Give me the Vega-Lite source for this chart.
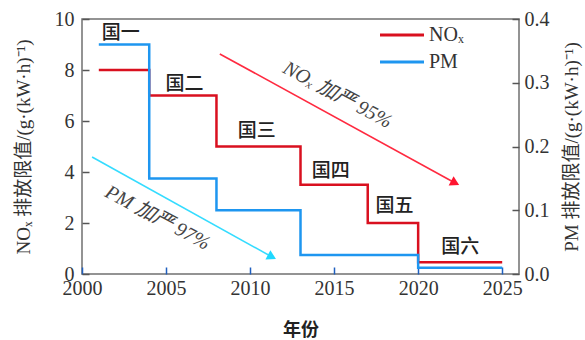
{
  "$schema": "https://vega.github.io/schema/vega-lite/v6.json",
  "width": 437,
  "height": 255,
  "autosize": "none",
  "padding": {"left": 82, "top": 19, "right": 66, "bottom": 66},
  "background": "white",
  "config": {
    "view": {"stroke": "#707070", "strokeWidth": 1.5},
    "font": "Liberation Serif, Noto Sans CJK SC",
    "axis": {
      "labelFont": "Liberation Serif",
      "labelFontSize": 20,
      "labelColor": "#333333",
      "labelFlush": false,
      "labelOverlap": false,
      "tickColor": "#555555",
      "tickSize": -7,
      "tickWidth": 1.5,
      "domain": false,
      "grid": false,
      "titleFont": "Liberation Serif, Noto Sans CJK SC",
      "titleFontSize": 19,
      "titleFontWeight": "normal",
      "titleColor": "#333333"
    },
    "legend": {
      "labelFont": "Liberation Serif",
      "labelFontSize": 20,
      "labelColor": "#333333"
    }
  },
  "datasets": {
    "nox": [
      {"pollutant": "NOₓ", "year": 2001, "limit": 8},
      {"pollutant": "NOₓ", "year": 2004, "limit": 7},
      {"pollutant": "NOₓ", "year": 2008, "limit": 5},
      {"pollutant": "NOₓ", "year": 2013, "limit": 3.5},
      {"pollutant": "NOₓ", "year": 2017, "limit": 2},
      {"pollutant": "NOₓ", "year": 2020, "limit": 0.46},
      {"pollutant": "NOₓ", "year": 2025, "limit": 0.46}
    ],
    "pm": [
      {"pollutant": "PM", "year": 2001, "limit": 0.36},
      {"pollutant": "PM", "year": 2004, "limit": 0.15},
      {"pollutant": "PM", "year": 2008, "limit": 0.1},
      {"pollutant": "PM", "year": 2013, "limit": 0.03},
      {"pollutant": "PM", "year": 2020, "limit": 0.01},
      {"pollutant": "PM", "year": 2025, "limit": 0.01}
    ],
    "stages": [
      {"stage": "国一", "year": 2002.3, "value": 9.45},
      {"stage": "国二", "year": 2006.1, "value": 7.47},
      {"stage": "国三", "year": 2010.4, "value": 5.6},
      {"stage": "国四", "year": 2014.8, "value": 4.04},
      {"stage": "国五", "year": 2018.6, "value": 2.67},
      {"stage": "国六", "year": 2022.5, "value": 1.04}
    ],
    "trends": [
      {"pollutant": "NOₓ", "from_year": 2008.2, "from_value": 8.63, "to_year": 2022.2, "to_value": 3.57, "note": "NOₓ 加严 95%", "note_year": 2015.2, "note_value": 7.02},
      {"pollutant": "PM", "from_year": 2000.6, "from_value": 4.59, "to_year": 2011.3, "to_value": 0.67, "note": "PM 加严 97%", "note_year": 2004.5, "note_value": 2.2}
    ]
  },
  "layer": [
    {
      "layer": [
        {
          "data": {"name": "nox"},
          "mark": {"type": "line", "interpolate": "step-after", "strokeWidth": 2.5},
          "encoding": {
            "x": {
              "field": "year",
              "type": "quantitative",
              "scale": {"domain": [2000, 2025]},
              "axis": {
                "values": [2000, 2005, 2010, 2015, 2020, 2025],
                "format": "d",
                "tickColor": "#1f5fbf",
                "labelPadding": 11,
                "title": "年份",
                "titleFont": "Noto Sans CJK SC",
                "titleFontWeight": "bold",
                "titleFontSize": 18,
                "titleColor": "#222222",
                "titlePadding": 23
              }
            },
            "y": {
              "field": "limit",
              "type": "quantitative",
              "scale": {"domain": [0, 10]},
              "axis": {
                "orient": "left",
                "values": [0, 2, 4, 6, 8, 10],
                "labelPadding": 15,
                "title": "NOₓ 排放限值/(g·(kW·h)⁻¹)",
                "titlePadding": 21
              }
            },
            "color": {
              "field": "pollutant",
              "type": "nominal",
              "scale": {"domain": ["NOₓ", "PM"], "range": ["#d9101f", "#1e96f0"]},
              "legend": {
                "title": null,
                "orient": "none",
                "legendX": 310,
                "legendY": 6,
                "symbolType": "M-4,0H4",
                "symbolSize": 121,
                "symbolStrokeWidth": 3,
                "labelOffset": 17,
                "rowPadding": 7,
                "padding": 0
              }
            }
          }
        },
        {
          "data": {"name": "trends"},
          "mark": {"type": "rule", "strokeWidth": 1.6},
          "encoding": {
            "x": {"field": "from_year", "type": "quantitative"},
            "y": {"field": "from_value", "type": "quantitative"},
            "x2": {"field": "to_year"},
            "y2": {"field": "to_value"},
            "stroke": {
              "field": "pollutant",
              "type": "nominal",
              "scale": {"domain": ["NOₓ", "PM"], "range": ["#ff2a40", "#35dcff"]},
              "legend": null
            }
          }
        },
        {
          "data": {"name": "trends"},
          "mark": {"type": "point", "shape": "triangle-right", "filled": true, "opacity": 1, "size": 110, "angle": 28},
          "encoding": {
            "x": {"field": "to_year", "type": "quantitative"},
            "y": {"field": "to_value", "type": "quantitative"},
            "fill": {
              "field": "pollutant",
              "type": "nominal",
              "scale": {"domain": ["NOₓ", "PM"], "range": ["#ff1530", "#20d8ff"]},
              "legend": null
            }
          }
        },
        {
          "data": {"name": "trends"},
          "mark": {"type": "text", "angle": 28, "fontSize": 20, "fontStyle": "italic", "font": "Liberation Serif, Noto Sans CJK SC", "color": "#444444", "align": "center", "baseline": "middle"},
          "encoding": {
            "x": {"field": "note_year", "type": "quantitative"},
            "y": {"field": "note_value", "type": "quantitative"},
            "text": {"field": "note"}
          }
        },
        {
          "data": {"name": "stages"},
          "mark": {"type": "text", "fontSize": 19, "font": "Noto Sans CJK SC", "fontWeight": 500, "color": "#222222", "align": "center", "baseline": "middle"},
          "encoding": {
            "x": {"field": "year", "type": "quantitative"},
            "y": {"field": "value", "type": "quantitative"},
            "text": {"field": "stage"}
          }
        }
      ]
    },
    {
      "data": {"name": "pm"},
      "mark": {"type": "line", "interpolate": "step-after", "strokeWidth": 2.5},
      "encoding": {
        "x": {"field": "year", "type": "quantitative"},
        "y": {
          "field": "limit",
          "type": "quantitative",
          "scale": {"domain": [0, 0.4]},
          "axis": {
            "orient": "right",
            "values": [0, 0.1, 0.2, 0.3, 0.4],
            "labelPadding": 12,
            "title": "PM 排放限值/(g·(kW·h)⁻¹)",
            "titleAngle": -90,
            "titleBaseline": "top",
            "titlePadding": 13
          }
        },
        "color": {"field": "pollutant", "type": "nominal"}
      }
    }
  ],
  "resolve": {"scale": {"y": "independent"}}
}
